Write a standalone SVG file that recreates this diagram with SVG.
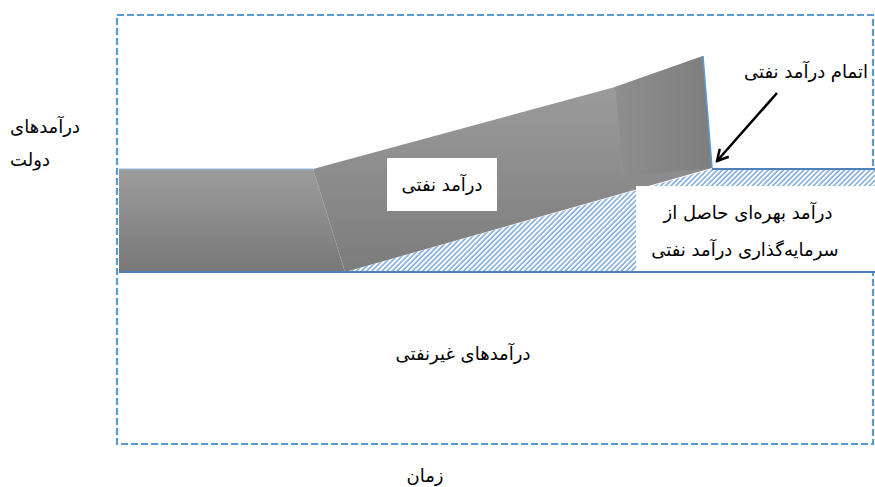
<svg xmlns="http://www.w3.org/2000/svg" width="875" height="487" viewBox="0 0 875 487">
<style>
.t{font-family:"DejaVu Sans","Noto Sans",sans-serif;font-size:18px;fill:#000;text-anchor:middle;direction:rtl}
.blue{stroke:#4f81bd;stroke-width:2;fill:none}
</style>
<defs>
<linearGradient id="gv" x1="0" y1="0" x2="0" y2="1">
<stop offset="0" stop-color="#9c9c9c"/><stop offset="1" stop-color="#787878"/>
</linearGradient>
<linearGradient id="gm" x1="0" y1="0" x2="0" y2="1">
<stop offset="0" stop-color="#a0a0a0"/><stop offset="1" stop-color="#7c7c7c"/>
</linearGradient>
<linearGradient id="gb" x1="0" y1="0" x2="1" y2="0">
<stop offset="0" stop-color="#8e8e8e"/><stop offset="1" stop-color="#7e7e7e"/>
</linearGradient>
<pattern id="hatch" width="3.6" height="3.6" patternUnits="userSpaceOnUse" patternTransform="rotate(45)">
<rect width="3.6" height="3.6" fill="#fff"/>
<line x1="1" y1="0" x2="1" y2="3.6" stroke="#6f9fd6" stroke-width="1.4"/>
</pattern>
<marker id="ah" markerWidth="14" markerHeight="14" refX="12" refY="7" orient="auto" markerUnits="userSpaceOnUse">
<path d="M1,1 L12,7 L1,13" fill="none" stroke="#000" stroke-width="2.5"/>
</marker>
</defs>

<g id="frame">
<rect x="117" y="15" width="756" height="429" fill="none" stroke="#5b9bd5" stroke-width="2.2" stroke-dasharray="7,3"/>
</g>

<g id="hatched-region">
<polygon points="345,272 712,169 875,169 875,272" fill="url(#hatch)"/>
</g>

<g id="oil-revenue-shape">
<polygon points="119,169 313,169 345,272 119,272" fill="url(#gv)"/>
<polygon points="313,169 615,87 703,56 712,168 345,272" fill="url(#gm)"/>
<polygon points="615,87 703,56 712,168 623,177" fill="url(#gb)"/>
<line x1="313" y1="169" x2="345" y2="272" stroke="#a8a8a8" stroke-width="0.5" opacity="0.35"/>
<line x1="615" y1="87" x2="623" y2="177" stroke="#a8a8a8" stroke-width="0.5" opacity="0.35"/>
<line x1="119" y1="169" x2="313" y2="169" stroke="#8db3e2" stroke-width="1"/>
<line x1="703" y1="56" x2="712" y2="168" stroke="#5b9bd5" stroke-width="1.5"/>
</g>

<g id="connectors">
<line x1="712" y1="169" x2="875" y2="169" class="blue"/>
<line x1="119" y1="272" x2="875" y2="272" class="blue"/>
<line x1="777" y1="93" x2="717" y2="161" stroke="#000" stroke-width="2.5" marker-end="url(#ah)"/>
</g>

<g id="label-oil">
<rect x="387" y="158" width="110" height="53" fill="#fff"/>
<text class="t" x="442" y="191">درآمد نفتی</text>
</g>

<g id="label-interest">
<rect x="636" y="186" width="239" height="85" fill="#fff"/>
<text class="t" x="748" y="219">درآمد بهره‌ای حاصل از</text>
<text class="t" x="745" y="256">سرمایه‌گذاری درآمد نفتی</text>
</g>

<g id="label-end">
<text class="t" x="806" y="78">اتمام درآمد نفتی</text>
</g>

<g id="label-gov">
<text class="t" x="45" y="133">درآمدهای</text>
<text class="t" x="30" y="166">دولت</text>
</g>

<g id="label-nonoil">
<text class="t" x="463" y="360">درآمدهای غیرنفتی</text>
</g>

<g id="label-time">
<text class="t" x="425" y="482">زمان</text>
</g>
</svg>
